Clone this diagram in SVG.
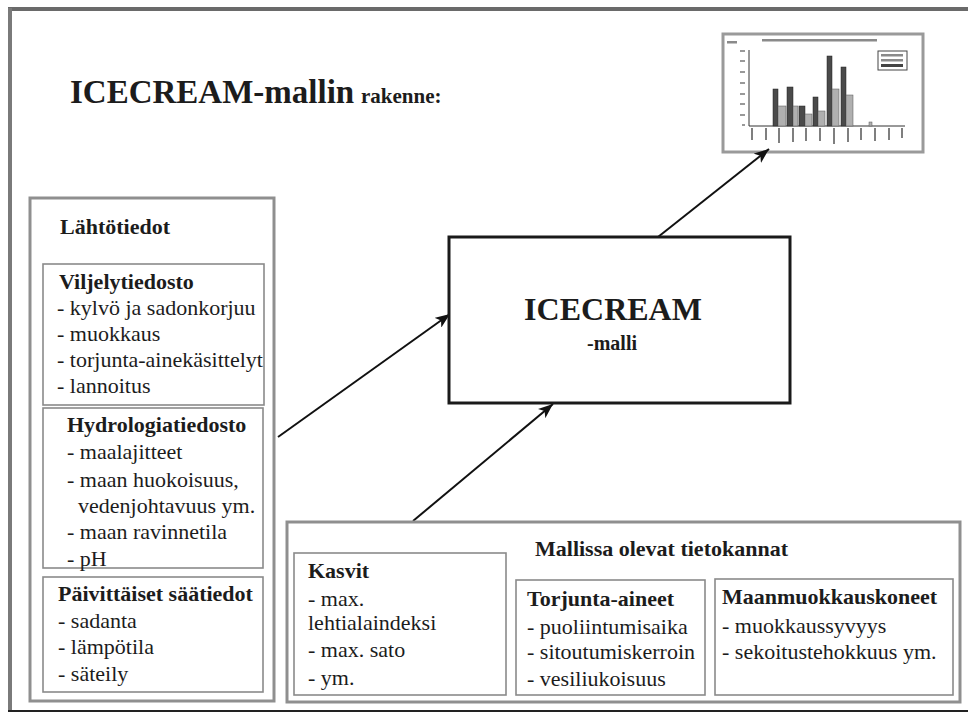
<svg xmlns="http://www.w3.org/2000/svg" width="968" height="715" viewBox="0 0 968 715">
<defs>
<style>
.t{font-family:"Liberation Serif","Times New Roman",serif;font-size:22px;fill:#1c1c1c}
.b{font-weight:bold}
.panel{fill:#fff;stroke:#8f8f8f;stroke-width:3}
.box{fill:#fff;stroke:#8a8a8a;stroke-width:1.6}
.conn{stroke:#111;stroke-width:2;fill:none;marker-end:url(#ah)}
.dk{fill:#4a4a4a;stroke:#222;stroke-width:0.5}
.lt{fill:#b0b0b0;stroke:#555;stroke-width:0.5}
.ph{fill:#8a8a8a}
</style>
<marker id="ah" markerWidth="16" markerHeight="12" refX="15" refY="6" orient="auto" markerUnits="userSpaceOnUse">
<path d="M0,0 L15,6 L0,12 L4,6 Z" fill="#111"/>
</marker>
</defs>
<rect width="968" height="715" fill="#fff"/>
<g id="frame">
<line x1="8" y1="9" x2="968" y2="9" stroke="#6a6a6a" stroke-width="4"/>
<line x1="10" y1="8" x2="10" y2="712" stroke="#7a7a7a" stroke-width="4"/>
<line x1="8" y1="711" x2="968" y2="711" stroke="#222" stroke-width="2"/>
</g>
<g id="title">
<text class="t b" x="70" y="103" style="font-size:33px">ICECREAM-mallin</text>
<text class="t b" x="361" y="103" style="font-size:21px">rakenne:</text>
</g>
<g id="chart">
<rect x="723" y="34" width="200" height="118" fill="#fff" stroke="#9a9a9a" stroke-width="3"/>
<rect class="ph" x="762" y="39" width="115" height="2.5"/>
<rect class="ph" x="727" y="41" width="10" height="2.5"/>
<line x1="749" y1="50" x2="749" y2="126" stroke="#333" stroke-width="1"/>
<line x1="749" y1="126" x2="905" y2="126" stroke="#333" stroke-width="1"/>
<g stroke="#777" stroke-width="1.5">
<line x1="740" y1="51" x2="745" y2="51"/><line x1="740" y1="61" x2="745" y2="61"/><line x1="740" y1="72" x2="745" y2="72"/><line x1="740" y1="83" x2="745" y2="83"/><line x1="740" y1="94" x2="745" y2="94"/><line x1="740" y1="104" x2="745" y2="104"/><line x1="740" y1="115" x2="745" y2="115"/><line x1="742" y1="125" x2="745" y2="125"/>
</g>
<g stroke="#555" stroke-width="1.5">
<line x1="752" y1="128" x2="752" y2="140"/><line x1="766" y1="128" x2="766" y2="140"/><line x1="779" y1="128" x2="779" y2="143"/><line x1="793" y1="128" x2="793" y2="142"/><line x1="806" y1="128" x2="806" y2="141"/><line x1="820" y1="128" x2="820" y2="141"/><line x1="834" y1="128" x2="834" y2="144"/><line x1="848" y1="128" x2="848" y2="142"/><line x1="861" y1="128" x2="861" y2="140"/><line x1="875" y1="128" x2="875" y2="141"/><line x1="889" y1="128" x2="889" y2="140"/><line x1="902" y1="128" x2="902" y2="138"/>
</g>
<rect class="dk" x="773" y="89" width="5" height="37"/>
<rect class="lt" x="778" y="106" width="8" height="20"/>
<rect class="dk" x="787" y="87" width="6" height="39"/>
<rect class="lt" x="793" y="106" width="5" height="20"/>
<rect class="dk" x="799" y="106" width="6" height="20"/>
<rect class="lt" x="805" y="114" width="7" height="12"/>
<rect class="dk" x="813" y="97" width="5" height="29"/>
<rect class="lt" x="818" y="111" width="7" height="15"/>
<rect class="dk" x="827" y="56" width="5" height="70"/>
<rect class="lt" x="832" y="89" width="7" height="37"/>
<rect class="dk" x="841" y="67" width="5" height="59"/>
<rect class="lt" x="846" y="95" width="7" height="31"/>
<rect class="lt" x="869" y="122" width="3" height="4"/>
<rect x="878" y="51" width="29" height="19" fill="#fff" stroke="#444" stroke-width="1"/>
<rect class="ph" x="881" y="54" width="22" height="2.5"/>
<rect class="ph" x="881" y="59" width="22" height="2.5"/>
<rect x="881" y="64" width="22" height="3" fill="#444"/>
</g>
<g id="connectors">
<line class="conn" x1="278" y1="437" x2="450" y2="314"/>
<line class="conn" x1="413" y1="521" x2="553" y2="404"/>
<line class="conn" x1="658" y1="237" x2="769" y2="149"/>
</g>
<g id="icecream">
<rect x="449" y="237" width="341" height="166" fill="#fff" stroke="#1a1a1a" stroke-width="3"/>
<text class="t b" x="613" y="320" text-anchor="middle" style="font-size:32px">ICECREAM</text>
<text class="t b" x="612" y="350" text-anchor="middle" style="font-size:20px">-malli</text>
</g>
<g id="lahtotiedot">
<rect class="panel" x="30" y="198" width="244" height="503"/>
<text class="t b" x="60" y="234">Lähtötiedot</text>
</g>
<g id="viljelytiedosto">
<rect class="box" x="43" y="264" width="221" height="141"/>
<text class="t b" x="59" y="289">Viljelytiedosto</text>
<text class="t" x="57" y="315">- kylvö ja sadonkorjuu</text>
<text class="t" x="57" y="341">- muokkaus</text>
<text class="t" x="57" y="367">- torjunta-ainekäsittelyt</text>
<text class="t" x="57" y="393">- lannoitus</text>
</g>
<g id="hydrologiatiedosto">
<rect class="box" x="43" y="408" width="220" height="160"/>
<text class="t b" x="67" y="432">Hydrologiatiedosto</text>
<text class="t" x="67" y="459">- maalajitteet</text>
<text class="t" x="67" y="487">- maan huokoisuus,</text>
<text class="t" x="78" y="513">vedenjohtavuus ym.</text>
<text class="t" x="67" y="539">- maan ravinnetila</text>
<text class="t" x="67" y="566">- pH</text>
</g>
<g id="saatiedot">
<rect class="box" x="43" y="577" width="220" height="115"/>
<text class="t b" x="58" y="601">Päivittäiset säätiedot</text>
<text class="t" x="58" y="628">- sadanta</text>
<text class="t" x="58" y="654">- lämpötila</text>
<text class="t" x="58" y="681">- säteily</text>
</g>
<g id="tietokannat">
<rect class="panel" x="287" y="522" width="673" height="180"/>
<text class="t b" x="535" y="556">Mallissa olevat tietokannat</text>
</g>
<g id="kasvit">
<rect class="box" x="294" y="553" width="212" height="142"/>
<text class="t b" x="308" y="578">Kasvit</text>
<text class="t" x="308" y="606">- max.</text>
<text class="t" x="308" y="630">lehtialaindeksi</text>
<text class="t" x="308" y="657">- max. sato</text>
<text class="t" x="308" y="685">- ym.</text>
</g>
<g id="torjunta">
<rect class="box" x="516" y="580" width="189" height="115"/>
<text class="t b" x="527" y="606">Torjunta-aineet</text>
<text class="t" x="527" y="634">- puoliintumisaika</text>
<text class="t" x="527" y="659">- sitoutumiskerroin</text>
<text class="t" x="527" y="686">- vesiliukoisuus</text>
</g>
<g id="maanmuokkaus">
<rect class="box" x="715" y="579" width="238" height="116"/>
<text class="t b" x="722" y="604">Maanmuokkauskoneet</text>
<text class="t" x="722" y="633">- muokkaussyvyys</text>
<text class="t" x="722" y="659">- sekoitustehokkuus ym.</text>
</g>
</svg>
